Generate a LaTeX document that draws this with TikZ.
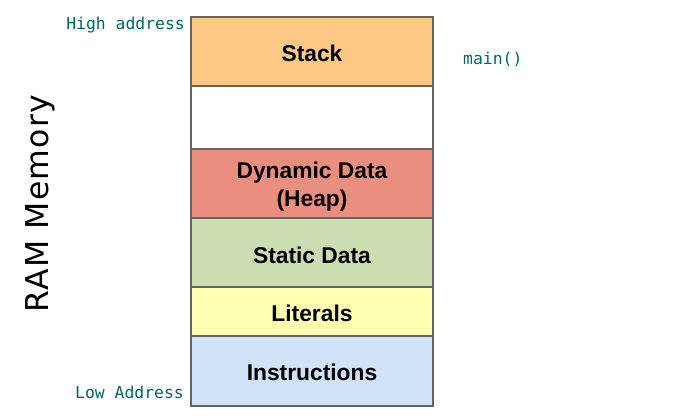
\documentclass[tikz,border=0pt]{standalone}
\usepackage{fontspec}
\setmainfont{Liberation Sans}
\newfontfamily\monof{DejaVu Sans Mono}
\newfontfamily\ramf{DejaVu Sans}[LetterSpace=4]
\definecolor{teallbl}{RGB}{0,102,102}
\definecolor{cstack}{RGB}{252,200,131}
\definecolor{cheap}{RGB}{234,142,127}
\definecolor{cstatic}{RGB}{203,221,177}
\definecolor{clit}{RGB}{255,253,176}
\definecolor{cinstr}{RGB}{207,226,248}
\definecolor{cborder}{RGB}{100,100,100}
\begin{document}
\begin{tikzpicture}[x=1pt,y=-1pt,
  seg/.style={draw=cborder, line width=1.4pt, minimum width=242pt, inner sep=0pt},
  seglbl/.style={inner sep=0pt, font=\fontsize{22.8}{28}\selectfont\bfseries, align=center},
  addr/.style={text=teallbl, font=\monof\fontsize{16.4}{18}\selectfont, inner sep=0pt}]
\useasboundingbox (0,0) rectangle (676,416);
\node[seg, fill=cstack, minimum height=69pt] (stack) at (312,51.5) {};
\node[seg, fill=white, minimum height=63pt] (free) at (312,117.5) {};
\node[seg, fill=cheap, minimum height=69pt] (heap) at (312,183.5) {};
\node[seg, fill=cstatic, minimum height=69pt] (static) at (312,252.5) {};
\node[seg, fill=clit, minimum height=49pt] (lit) at (312,311.5) {};
\node[seg, fill=cinstr, minimum height=70pt] (instr) at (312,371) {};
\node[seglbl] (stacklbl) at ([yshift=-1.5pt]stack.center) {Stack};
\node[seglbl] (heaplbl) at ([yshift=-3pt]heap.center) {Dynamic Data\\(Heap)};
\node[seglbl] (staticlbl) at ([yshift=-2.5pt]static.center) {Static Data};
\node[seglbl] (litlbl) at ([yshift=-2pt]lit.center) {Literals};
\node[seglbl] (instrlbl) at ([yshift=-1.5pt]instr.center) {Instructions};
\node[addr, anchor=base east] (high) at (185,29) {High address};
\node[addr, anchor=base east] (low) at (184,398) {Low Address};
\node[addr, anchor=base west] (main) at (463,64.5) {main()};
\node[rotate=90, anchor=base, inner sep=0pt, font=\ramf\fontsize{31.5}{36}\selectfont] (ram) at (48,203.5) {RAM Memory};
\end{tikzpicture}
\end{document}
